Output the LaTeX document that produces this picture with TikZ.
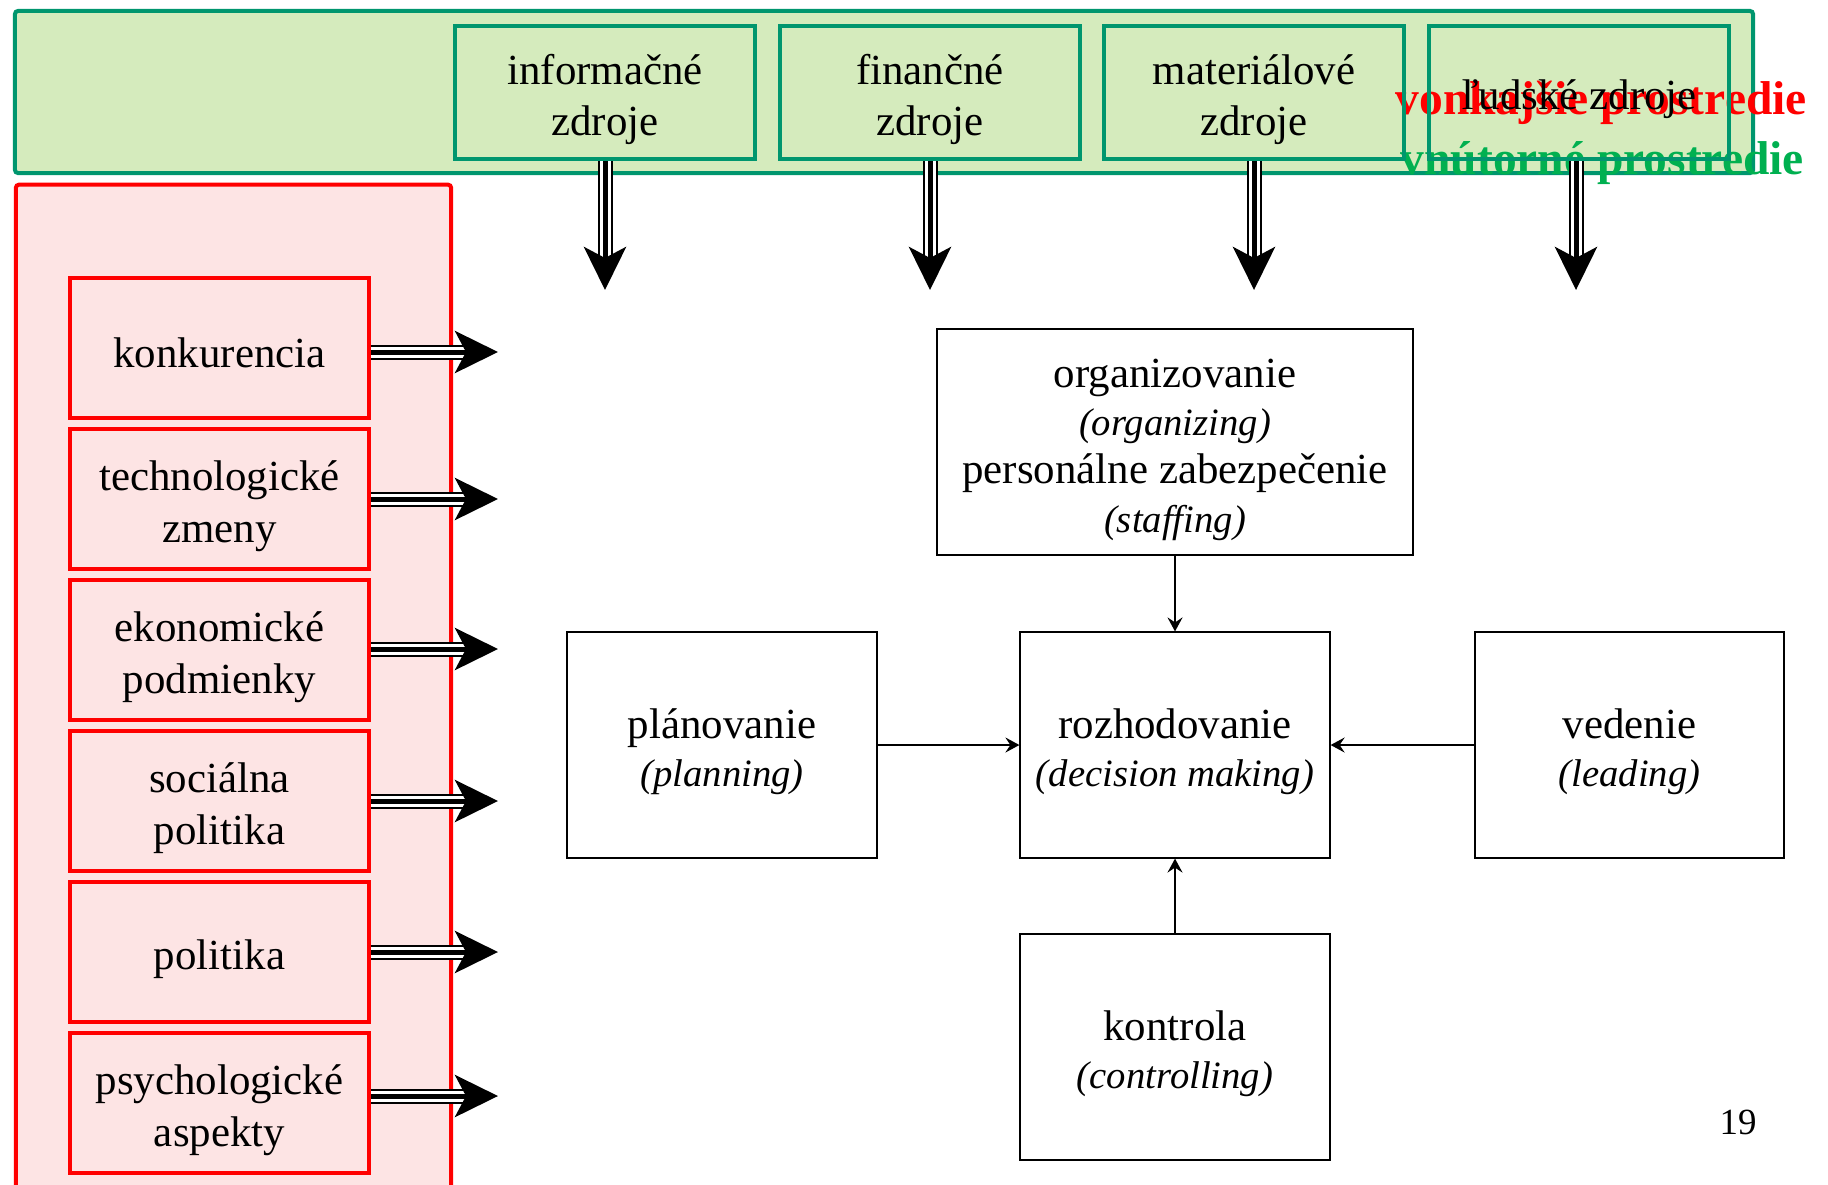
\documentclass[tikz,border=0pt]{standalone}
\usepackage{fontspec}
\setmainfont{Liberation Serif}
\usetikzlibrary{arrows.meta}
\definecolor{zelena}{RGB}{0,150,110}
\definecolor{zelenavypln}{RGB}{213,235,189}
\definecolor{cervenavypln}{RGB}{253,228,228}
\definecolor{zelenytext}{RGB}{0,176,80}
\newcommand{\hore}{\rule{0pt}{12.5pt}}
\newcommand{\angl}[1]{{\fontsize{11}{13.7}\selectfont\itshape (#1)}}
\tikzset{
>=Stealth,
riadky/.style={execute at begin node={\hore},execute at end node={\rule[-1.6pt]{0pt}{0pt}}},
zdroj node/.style={riadky,draw=zelena,line width=0.04cm,minimum width=3cm,minimum height=1.33cm,align=center,inner sep=0pt,font=\fontsize{12.2}{14.3}\selectfont},
faktor node/.style={riadky,draw=red,line width=0.04cm,minimum width=2.99cm,minimum height=1.40cm,align=center,inner sep=0pt,font=\fontsize{12.2}{14.6}\selectfont},
funkcia node/.style={riadky,draw,line width=0.02cm,minimum width=3.09cm,minimum height=2.25cm,align=center,inner sep=0pt,font=\fontsize{12.2}{13.7}\selectfont},
nadpis/.style={anchor=base west,inner sep=0pt,font=\fontsize{13.5}{16}\selectfont\bfseries},
freccia/.style={-{Stealth[length=0.14cm,width=0.15cm,inset=0.05cm]},line width=0.02cm},
tripla/.style={preaction={draw,-,line width=0.15cm,shorten >=0.3cm},preaction={draw,-,white,line width=0.11cm,shorten >=0.3cm},draw,line width=0.05cm,-{Stealth[length=0.43cm,width=0.42cm,inset=0.11cm]}}}

\begin{document}
\begin{tikzpicture}[x=0.01cm,y=-0.01cm]
\useasboundingbox (0,0) rectangle (1828,1184);

% prostredie
\node[draw=zelena,fill=zelenavypln,line width=0.04cm,rounded corners=0.03cm,minimum width=17.37cm,minimum height=1.62cm] (vnutorne) at (884,92) {};
\node[draw=red,fill=cervenavypln,line width=0.04cm,rounded corners=0.03cm,minimum width=4.35cm,minimum height=10.8cm] (vonkajsie) at (233.5,725) {};

\node[nadpis,text=red] (vonk) at (1395,114) {vonkajšie prostredie};
\node[nadpis,text=zelenytext] (vnut) at (1400,174) {vnútorné prostredie};

% zdroje
\node[zdroj node] (info) at (605,92.5) {\hore informačné\\zdroje};
\node[zdroj node] (fin) at (930,92.5) {\hore finančné\\zdroje};
\node[zdroj node] (mat) at (1254,92.5) {\hore materiálové\\zdroje};
\node[zdroj node] (ludia) at (1579,92.5) {ľudské zdroje};

% faktory
\node[faktor node] (konk) at (219.5,348) {konkurencia};
\node[faktor node] (tech) at (219.5,499) {\hore technologické\\zmeny};
\node[faktor node] (ekon) at (219.5,650) {\hore ekonomické\\podmienky};
\node[faktor node] (soc) at (219.5,801) {\hore sociálna\\politika};
\node[faktor node] (pol) at (219.5,952) {politika};
\node[faktor node] (psych) at (219.5,1103) {\hore psychologické\\aspekty};

% funkcie
\node[funkcia node,minimum width=4.75cm] (org) at (1175,442) {\hore organizovanie\\\angl{organizing}\\personálne zabezpečenie\\\angl{staffing}};
\node[funkcia node] (plan) at (722,745) {\hore plánovanie\\\angl{planning}};
\node[funkcia node] (rozh) at (1175,745) {\hore rozhodovanie\\\angl{decision making}};
\node[funkcia node] (ved) at (1629.5,745) {\hore vedenie\\\angl{leading}};
\node[funkcia node] (kontr) at (1175,1047) {\hore kontrola\\\angl{controlling}};

\node[font=\fontsize{10.5}{12}\selectfont] (strana) at (1738,1122) {19};

\coordinate (h1) at (605,290);
\coordinate (h2) at (930,290);
\coordinate (h3) at (1254,290);
\coordinate (h4) at (1576,290);
\coordinate (v1) at (498,352);
\coordinate (v2) at (498,499);
\coordinate (v3) at (498,649);
\coordinate (v4) at (498,801);
\coordinate (v5) at (498,952);
\coordinate (v6) at (498,1096);

\path[tripla] (info.south) -- (h1);
\path[tripla] (fin.south) -- (h2);
\path[tripla] (mat.south) -- (h3);
\path[tripla] (h4 |- ludia.south) -- (h4);

\path[tripla] (v1 -| konk.east) -- (v1);
\path[tripla] (v2 -| tech.east) -- (v2);
\path[tripla] (v3 -| ekon.east) -- (v3);
\path[tripla] (v4 -| soc.east) -- (v4);
\path[tripla] (v5 -| pol.east) -- (v5);
\path[tripla] (v6 -| psych.east) -- (v6);

\draw[freccia] (org) -- (rozh);
\draw[freccia] (plan) -- (rozh);
\draw[freccia] (ved) -- (rozh);
\draw[freccia] (kontr) -- (rozh);

\end{tikzpicture}
\end{document}
